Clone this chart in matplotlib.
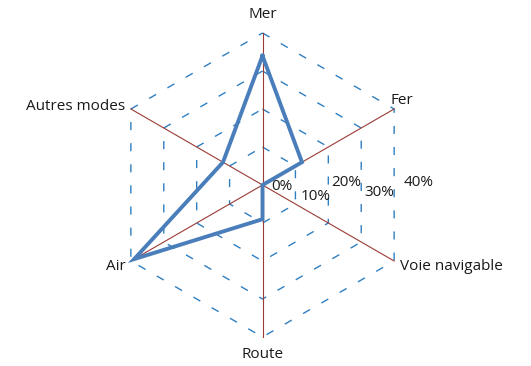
import numpy as np
import matplotlib
matplotlib.use("Agg")
import matplotlib.pyplot as plt

# ── data ─────────────────────────────────────────────
categories = ["Mer", "Fer", "Voie navigable", "Route", "Air", "Autres modes"]
values = [34, 12, 0, 9, 39, 12]          # % share
ring_levels = [10, 20, 30, 40]
tick_labels = ["0%", "10%", "20%", "30%", "40%"]

# ── geometry (pixel-like data space) ─────────────────
W, H = 531, 366
cx, cy = 262.5, 185
R = 152 / 40.0                            # px per percent
angles = np.deg2rad(np.arange(len(categories)) * 60)


def to_xy(r, th):
    return cx + r * R * np.sin(th), cy - r * R * np.cos(th)


plt.rcParams["font.family"] = ["Open Sans", "DejaVu Sans"]
fig = plt.figure(figsize=(W / 100, H / 100), dpi=100)
ax = fig.add_axes([0, 0, 1, 1])
ax.set_xlim(0, W)
ax.set_ylim(H, 0)
ax.set_aspect("equal")
ax.axis("off")

# dashed hexagon rings
closed = np.append(angles, angles[0])
for lvl in ring_levels:
    xs, ys = to_xy(lvl, closed)
    ax.plot(xs, ys, color="#2F7FC1", lw=1.0, dashes=(5.8, 9.4))

# spokes
for th in angles:
    xs, ys = to_xy(np.array([0, ring_levels[-1]]), th)
    ax.plot(xs, ys, color="#9A3B34", lw=0.8)

# series
vals = np.append(values, values[0])
xs, ys = to_xy(vals, closed)
ax.plot(xs, ys, color="#4A7EBB", lw=2.8, solid_joinstyle="miter")

# category labels
label_pos = {
    "Mer": (263, 15, "center"),
    "Fer": (391, 100, "left"),
    "Voie navigable": (400, 267, "left"),
    "Route": (263, 355, "center"),
    "Air": (126, 267, "right"),
    "Autres modes": (125, 106, "right"),
}
for name in categories:
    x, y, ha = label_pos[name]
    ax.text(x, y, name, ha=ha, va="center", fontsize=11, color="#1a1a1a")

# value tick labels
tick_pos = [(282, 186), (316, 197), (346, 183), (379, 193), (419, 183)]
for (x, y), t in zip(tick_pos, tick_labels):
    ax.text(x, y, t, ha="center", va="center", fontsize=11, color="#1a1a1a")

fig.savefig("out.png", dpi=100)
